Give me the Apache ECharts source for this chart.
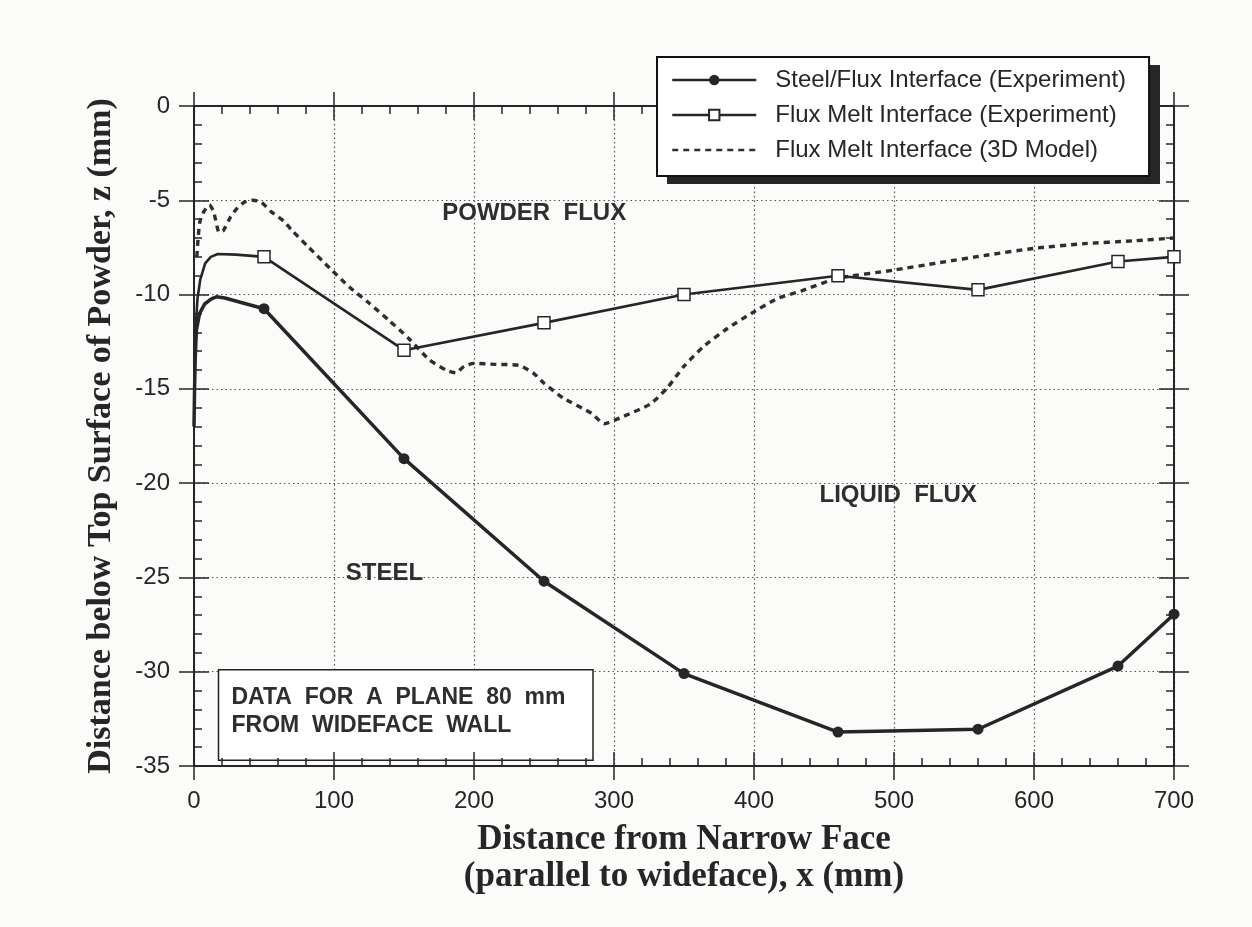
<!DOCTYPE html>
<html>
<head>
<meta charset="utf-8">
<script src="https://cdn.jsdelivr.net/npm/echarts@6/dist/echarts.min.js"></script>
<style>
  html, body { margin: 0; padding: 0; background: #fbfbfa; }
  #chart { width: 1252px; height: 927px; }
</style>
</head>
<body>
<div id="chart"></div>
<script>
// Steel/flux interface: near-wall curve, then measured points
const steelLeadIn = [[0, -17.0], [0.4, -15.0], [0.9, -13.3], [1.7, -11.9], [4, -11.0], [7.6, -10.5],
  [12.4, -10.23], [16, -10.12], [22, -10.18], [35, -10.45]];
const steelX = [50, 150, 250, 350, 460, 560, 660, 700];
const steelZ = [-10.75, -18.7, -25.2, -30.1, -33.2, -33.05, -29.7, -26.95];

// Flux melt interface (experiment): near-wall curve, then measured points
const meltLeadIn = [[1, -12.0], [2.5, -10.2], [4.5, -9.2], [8, -8.35], [12, -8.0], [17, -7.85], [30, -7.88]];
const meltX = [50, 150, 250, 350, 460, 560, 660, 700];
const meltZ = [-8.0, -12.95, -11.5, -10.0, -9.0, -9.75, -8.25, -8.0];

// Flux melt interface (3D model)
const modelX = [2, 4, 7, 11, 14, 18, 21, 26, 31, 36, 42, 48, 55, 64, 70, 82, 97, 111, 125, 139, 153, 168,
  180, 187, 193, 200, 215, 232, 243, 250, 264, 284, 293, 307, 326, 338, 350, 364, 381, 398, 417, 434,
  459, 500, 533, 567, 600, 636, 671, 700];
const modelZ = [-8.0, -6.2, -5.6, -5.25, -5.6, -6.7, -6.6, -5.9, -5.4, -5.1, -5.0, -5.1, -5.6, -6.1, -6.6,
  -7.5, -8.6, -9.6, -10.45, -11.35, -12.3, -13.45, -14.0, -14.15, -13.8, -13.65, -13.7, -13.75, -14.2,
  -14.7, -15.5, -16.3, -16.85, -16.45, -15.8, -14.95, -13.8, -12.75, -11.8, -11.0, -10.2, -9.8, -9.15,
  -8.7, -8.3, -7.9, -7.55, -7.3, -7.15, -7.0];

const seriesNames = ['Steel/Flux Interface (Experiment)', 'Flux Melt Interface (Experiment)', 'Flux Melt Interface (3D Model)'];
const xTitle = 'Distance from Narrow Face\n(parallel to wideface), x (mm)';
const yTitle = 'Distance below Top Surface of Powder, z (mm)';
const regionTexts = ['POWDER  FLUX', 'LIQUID  FLUX', 'STEEL'];
const noteLines = ['DATA  FOR  A  PLANE  80  mm', 'FROM  WIDEFACE  WALL'];

const INK = '#262626';
const SANS = '"Liberation Sans", Arial, Helvetica, sans-serif';
const SERIF = '"Liberation Serif", "Times New Roman", serif';

function withMarks(leadIn, xs, zs) {
  const pts = leadIn.map(p => ({ value: p, symbol: 'none' }));
  xs.forEach((x, i) => pts.push({ value: [x, zs[i]] }));
  return pts;
}

const axisLine = { show: true, onZero: false, lineStyle: { color: INK, width: 2 } };
const tickStyle = { color: INK, width: 1.5 };

// each side gets two overlapping axes so major ticks cross the frame
function xAx(position, inside, main) {
  return {
    type: 'value', position: position, min: 0, max: 700, interval: 100,
    axisLine: axisLine,
    axisTick: { show: true, inside: inside, length: 14, lineStyle: tickStyle },
    minorTick: { show: inside, splitNumber: 5, length: 8, lineStyle: tickStyle },
    axisLabel: main ? { show: true, margin: 23, fontFamily: SANS, fontSize: 24, color: INK } : { show: false },
    splitLine: main ? { show: true, lineStyle: { color: '#555', width: 1.2, type: [1.5, 3] } } : { show: false },
    name: main ? xTitle : '',
    nameLocation: 'middle', nameGap: 55,
    nameTextStyle: { fontFamily: SERIF, fontWeight: 'bold', fontSize: 35, lineHeight: 37, color: INK }
  };
}
function yAx(position, inside, main) {
  return {
    type: 'value', position: position, min: -35, max: 0, interval: 5,
    axisLine: axisLine,
    axisTick: { show: true, inside: inside, length: 15, lineStyle: tickStyle },
    minorTick: { show: inside, splitNumber: 5, length: 8, lineStyle: tickStyle },
    axisLabel: main ? { show: true, margin: 24, fontFamily: SANS, fontSize: 24, color: INK } : { show: false },
    splitLine: main ? { show: true, lineStyle: { color: '#555', width: 1.2, type: [1.5, 3] } } : { show: false },
    name: main ? yTitle : '',
    nameLocation: 'middle', nameGap: 76,
    nameTextStyle: { fontFamily: SERIF, fontWeight: 'bold', fontSize: 34, color: INK }
  };
}

const chart = echarts.init(document.getElementById('chart'), null, { renderer: 'canvas' });

chart.setOption({
  backgroundColor: '#fbfbfa',
  animation: false,
  grid: { left: 194, top: 106, width: 980, height: 660 },
  xAxis: [xAx('bottom', false, true), xAx('bottom', true, false), xAx('top', false, false), xAx('top', true, false)],
  yAxis: [yAx('left', false, true), yAx('left', true, false), yAx('right', false, false), yAx('right', true, false)],
  legend: {
    orient: 'vertical', left: 657, top: 57, z: 10,
    padding: [9, 23, 12, 14],
    itemWidth: 84, itemHeight: 13, itemGap: 7,
    selectedMode: false,
    backgroundColor: '#ffffff', borderColor: '#111', borderWidth: 2,
    lineStyle: { width: 2.5 },
    textStyle: { fontFamily: SANS, fontSize: 24, color: INK, lineHeight: 28, padding: [0, 0, 0, 14] },
    data: [
      { name: seriesNames[0] },
      { name: seriesNames[1] },
      { name: seriesNames[2], itemStyle: { opacity: 0 } }
    ]
  },
  series: [
    {
      name: seriesNames[0], type: 'line', xAxisIndex: 0, yAxisIndex: 0,
      data: withMarks(steelLeadIn, steelX, steelZ),
      symbol: 'circle', symbolSize: 11, showAllSymbol: true,
      lineStyle: { color: INK, width: 3.5, join: 'round' },
      itemStyle: { color: INK, borderColor: INK, borderWidth: 0 },
      z: 4
    },
    {
      name: seriesNames[1], type: 'line', xAxisIndex: 0, yAxisIndex: 0,
      data: withMarks(meltLeadIn, meltX, meltZ),
      symbol: 'rect', symbolSize: 12, showAllSymbol: true,
      lineStyle: { color: INK, width: 2.6, join: 'round' },
      itemStyle: { color: '#ffffff', borderColor: INK, borderWidth: 1.5 },
      z: 5
    },
    {
      name: seriesNames[2], type: 'line', xAxisIndex: 0, yAxisIndex: 0,
      data: modelX.map((x, i) => [x, modelZ[i]]),
      symbol: 'none', smooth: 0.2,
      lineStyle: { color: '#2e2e2e', width: 3.4, type: [6, 5] },
      itemStyle: { color: '#2e2e2e' },
      z: 3
    }
  ]
});

// region names and the data note, placed through the chart's own coordinate system
const regionAnchors = [[243, -5.7], [503, -20.65], [136, -24.8]];
const labelEls = regionTexts.map((t, i) => {
  const p = chart.convertToPixel({ gridIndex: 0 }, regionAnchors[i]);
  return {
    type: 'text', x: p[0], y: p[1], z: 6,
    style: { text: t, fill: '#2e2e2e', font: 'bold 24px ' + SANS, align: 'center', verticalAlign: 'middle' }
  };
});
const noteTopLeft = chart.convertToPixel({ gridIndex: 0 }, [17.5, -29.9]);
const noteBottomRight = chart.convertToPixel({ gridIndex: 0 }, [285, -34.7]);
const noteW = noteBottomRight[0] - noteTopLeft[0];
const noteH = noteBottomRight[1] - noteTopLeft[1];
const noteEl = {
  type: 'group', x: noteTopLeft[0], y: noteTopLeft[1], z: 8,
  children: [
    { type: 'rect', shape: { x: 0, y: 0, width: noteW, height: noteH },
      style: { fill: '#ffffff', stroke: '#222', lineWidth: 1.5 } },
    { type: 'text', x: 13, y: noteH * 0.31,
      style: { text: noteLines[0], fill: '#2e2e2e', font: 'bold 23px ' + SANS, verticalAlign: 'middle' } },
    { type: 'text', x: 13, y: noteH * 0.62,
      style: { text: noteLines[1], fill: '#2e2e2e', font: 'bold 23px ' + SANS, verticalAlign: 'middle' } }
  ]
};
// solid drop shadow behind the legend box
const legendShadow = {
  type: 'rect', left: 667, top: 65, z: 9,
  shape: { width: 493, height: 119 },
  style: { fill: '#262626' }
};
chart.setOption({ graphic: { elements: labelEls.concat([noteEl, legendShadow]) } });
</script>
</body>
</html>
